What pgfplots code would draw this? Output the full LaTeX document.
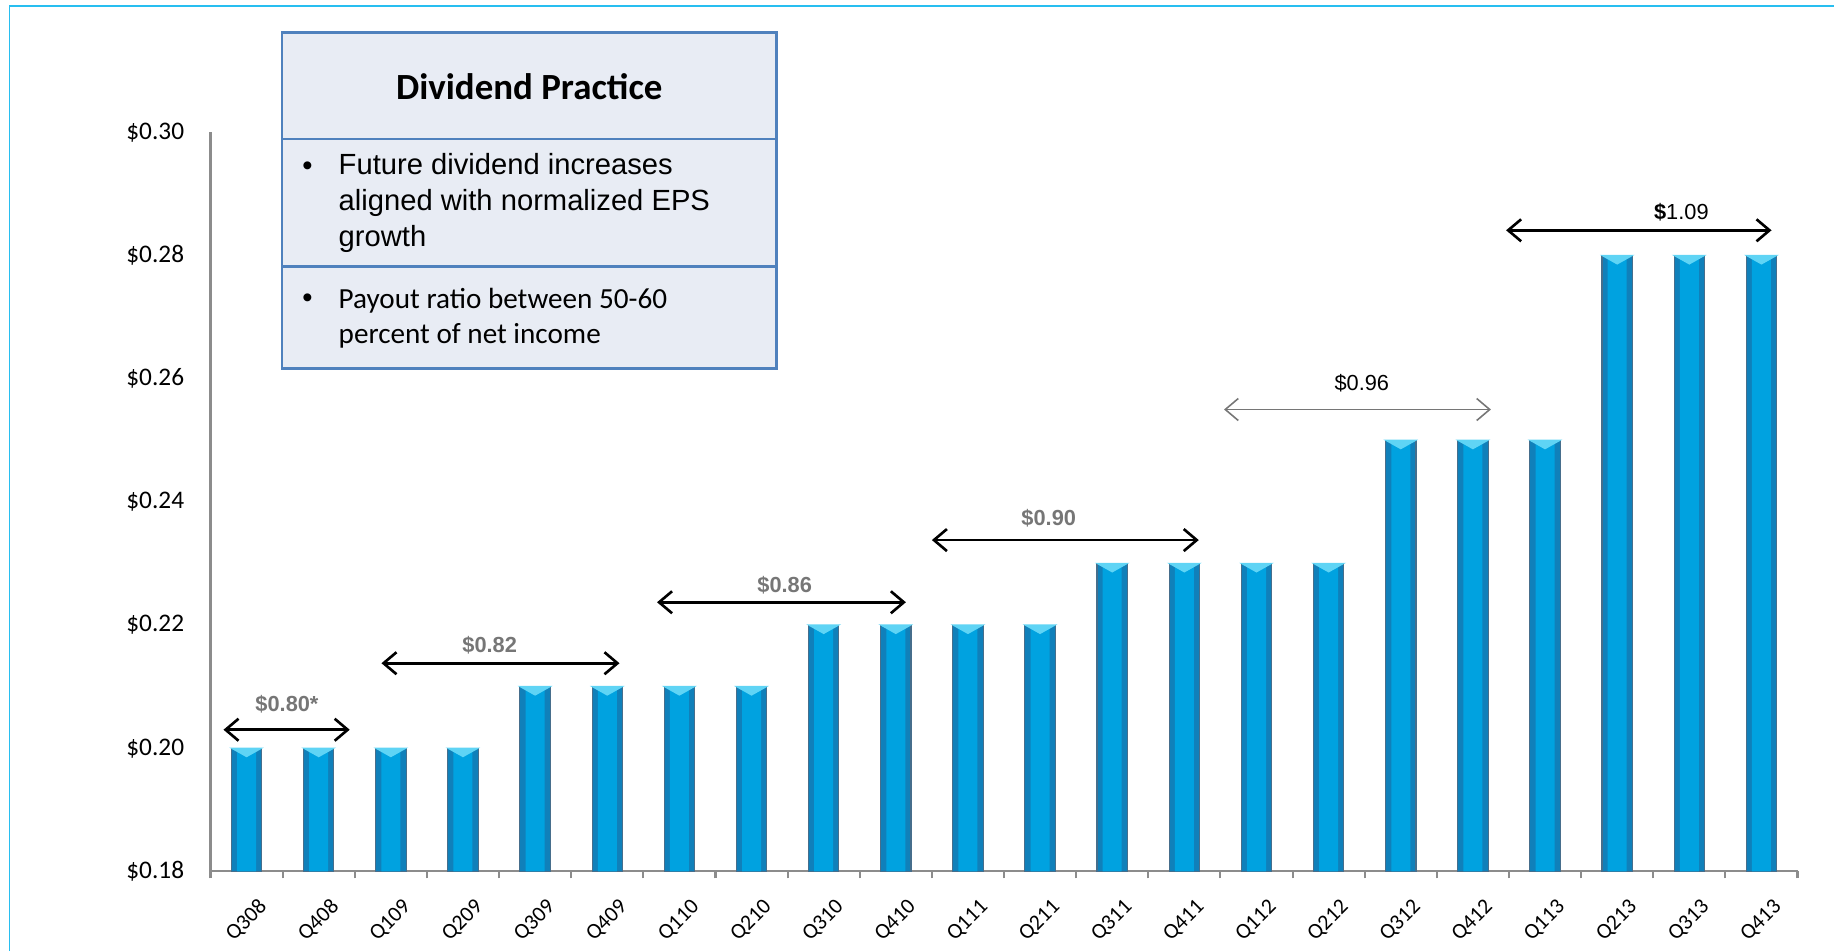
\documentclass[border=0pt]{standalone}
\usepackage{fontspec}
\setmainfont{Carlito}
\newfontfamily\arial{Liberation Sans}
\usepackage{pgfplots}
\pgfplotsset{compat=1.18}
\usetikzlibrary{arrows.meta}
\definecolor{barmid}{RGB}{0,162,224}
\definecolor{barouter}{RGB}{16,128,186}
\definecolor{baredge}{RGB}{70,110,140}
\definecolor{capcol}{RGB}{95,212,245}
\definecolor{axgray}{RGB}{140,140,140}
\definecolor{lblgray}{RGB}{118,118,118}
\definecolor{boxfill}{RGB}{232,236,244}
\definecolor{boxline}{RGB}{79,129,189}
\definecolor{framecol}{RGB}{40,190,240}
\tikzset{
    span/.style={draw=black, line width=0.75pt,
        {Straight Barb[length=0.13cm,width=0.22cm]}-{Straight Barb[length=0.13cm,width=0.22cm]}},
    thinspan/.style={draw=lblgray, line width=0.45pt,
        {Straight Barb[length=0.13cm,width=0.22cm]}-{Straight Barb[length=0.13cm,width=0.22cm]}},
    boldlbl/.style={font=\arial\bfseries\fontsize{6.2}{7}\selectfont, text=lblgray, inner sep=0pt},
    plainlbl/.style={font=\arial\fontsize{6.2}{7}\selectfont, text=black, inner sep=0pt},
    row/.style={draw=boxline, line width=0.75pt, fill=boxfill}
}
\pgfplotstableread{
x  y
0  0.20
1  0.20
2  0.20
3  0.20
4  0.21
5  0.21
6  0.21
7  0.21
8  0.22
9  0.22
10 0.22
11 0.22
12 0.23
13 0.23
14 0.23
15 0.23
16 0.25
17 0.25
18 0.25
19 0.28
20 0.28
21 0.28
}\dividends
\begin{document}
\begin{tikzpicture}
\useasboundingbox (0,0) rectangle (18.34,9.51);
\draw[framecol, line width=0.5pt] (0.094,0) -- (0.094,9.452) -- (18.34,9.452);

\begin{axis}[
    at={(2.105cm,0.796cm)}, anchor=south west,
    scale only axis,
    width=15.87cm, height=7.39cm,
    xmin=-0.5, xmax=21.5,
    ymin=0.18, ymax=0.30,
    axis x line*=bottom, axis y line*=left,
    axis line style={draw=axgray, line width=0.6pt},
    xtick={0,...,21},
    xticklabels={Q308,Q408,Q109,Q209,Q309,Q409,Q110,Q210,Q310,Q410,Q111,Q211,Q311,Q411,Q112,Q212,Q312,Q412,Q113,Q213,Q313,Q413},
    major x tick style={draw=none},
    minor xtick={-0.5,0.5,...,21.5},
    minor x tick style={draw=axgray, line width=0.6pt},
    minor tick length=0.07cm,
    tick align=outside,
    xticklabel style={rotate=45, anchor=north east, font=\fontsize{6.2}{7}\selectfont, xshift=0.12cm, yshift=-0.03cm},
    ytick={0.18,0.20,0.22,0.24,0.26,0.28,0.30},
    yticklabels={\$0.18,\$0.20,\$0.22,\$0.24,\$0.26,\$0.28,\$0.30},
    major y tick style={draw=none},
    yticklabel style={font=\fontsize{7.2}{8}\selectfont, xshift=0.01cm},
    clip=false,
]
\addplot[ybar, bar shift=0pt, bar width=0.304cm, draw=baredge, line width=0.3pt, fill=barouter]
    table[x=x, y=y] {\dividends};
\addplot[ybar, bar shift=0pt, bar width=0.19cm, draw=none, fill=barmid]
    table[x=x, y=y] {\dividends};
\addplot[only marks, mark=triangle*, mark size=0.1cm, color=capcol,
    mark options={draw=none, fill=capcol, rotate=180, xscale=1.7, yscale=0.55, yshift=0.05cm}]
    table[x=x, y=y] {\dividends};

% annual totals
\draw[span] (axis cs:-0.32,0.2030) -- (axis cs:1.43,0.2030);
\node[boldlbl] at (axis cs:0.56,0.2072) {\$0.80*};
\draw[span] (axis cs:1.87,0.2138) -- (axis cs:5.17,0.2138);
\node[boldlbl] at (axis cs:3.37,0.2168) {\$0.82};
\draw[span] (axis cs:5.69,0.2237) -- (axis cs:9.14,0.2237);
\node[boldlbl] at (axis cs:7.46,0.2265) {\$0.86};
\draw[span] (axis cs:9.50,0.2338) -- (axis cs:13.20,0.2338);
\node[boldlbl] at (axis cs:11.12,0.2374) {\$0.90};
\draw[thinspan] (axis cs:13.55,0.2550) -- (axis cs:17.25,0.2550);
\node[plainlbl] at (axis cs:15.46,0.2592) {\$0.96};
\draw[span] (axis cs:17.46,0.2841) -- (axis cs:21.14,0.2841);
\node[plainlbl] at (axis cs:19.89,0.2871) {\textbf{\$}1.09};
\end{axis}

% Dividend practice box
\draw[row] (2.819,8.118) rectangle (7.767,9.182);
\draw[row] (2.819,6.843) rectangle (7.767,8.118);
\draw[row] (2.819,5.825) rectangle (7.767,6.843);
\node[font=\bfseries\fontsize{10.5}{12}\selectfont] at (5.293,8.644) {Dividend Practice};
\node[anchor=west, inner sep=0pt, align=left, font=\arial\fontsize{8.3}{10.15}\selectfont] at (3.38,7.48)
    {Future dividend increases\\aligned with normalized EPS\\growth};
\node[font=\arial\fontsize{8.3}{10}\selectfont, inner sep=0pt] at (3.076,7.826) {•};
\node[anchor=west, inner sep=0pt, align=left, font=\fontsize{8.3}{10.15}\selectfont] at (3.38,6.328)
    {Payout ratio between 50-60\\percent of net income};
\node[font=\arial\fontsize{8.3}{10}\selectfont, inner sep=0pt] at (3.076,6.504) {•};
\end{tikzpicture}
\end{document}
